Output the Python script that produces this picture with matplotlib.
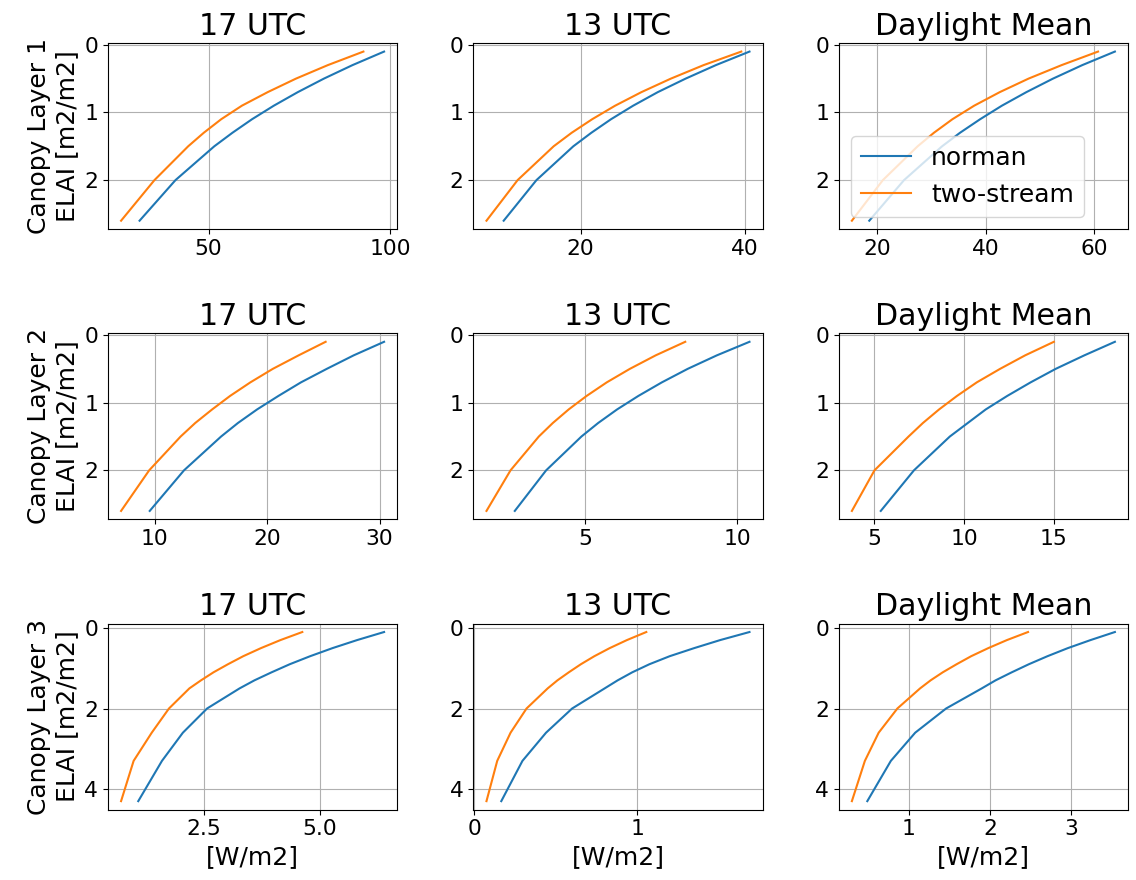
import matplotlib.pyplot as plt

# ELAI levels (top of canopy -> bottom)
elai_12 = [0.1, 0.3, 0.5, 0.7, 0.9, 1.1, 1.3, 1.5, 2.0, 2.6]
elai_3 = [0.1, 0.3, 0.5, 0.7, 0.9, 1.1, 1.3, 1.5, 2.0, 2.6, 3.3, 4.3]

titles = ['17 UTC', '13 UTC', 'Daylight Mean']
layers = ['Canopy Layer 1', 'Canopy Layer 2', 'Canopy Layer 3']

# layer 1
norman_l1_17 = [98.4, 89.7, 81.8, 74.6, 68.0, 62.0, 56.6, 51.6, 40.9, 31.0]
twostr_l1_17 = [92.7, 82.9, 74.1, 66.3, 59.2, 53.5, 48.7, 44.4, 35.1, 25.9]
norman_l1_13 = [40.6, 36.5, 32.8, 29.4, 26.4, 23.7, 21.3, 19.1, 14.6, 10.6]
twostr_l1_13 = [39.6, 35.0, 31.0, 27.4, 24.2, 21.4, 18.9, 16.7, 12.3, 8.5]
norman_l1_dm = [63.8, 57.8, 52.4, 47.5, 43.0, 39.0, 35.3, 32.0, 25.0, 18.6]
twostr_l1_dm = [60.7, 54.0, 47.9, 42.6, 37.9, 33.9, 30.5, 27.5, 21.1, 15.4]

# layer 2
norman_l2_17 = [30.4, 27.7, 25.3, 23.0, 21.0, 19.1, 17.4, 15.9, 12.6, 9.55]
twostr_l2_17 = [25.2, 22.8, 20.5, 18.5, 16.7, 15.1, 13.6, 12.3, 9.5, 7.0]
norman_l2_13 = [10.4, 9.33, 8.37, 7.52, 6.75, 6.05, 5.43, 4.88, 3.72, 2.69]
twostr_l2_13 = [8.29, 7.32, 6.47, 5.71, 5.05, 4.46, 3.94, 3.48, 2.55, 1.76]
norman_l2_dm = [18.4, 16.7, 15.1, 13.7, 12.4, 11.2, 10.2, 9.2, 7.2, 5.35]
twostr_l2_dm = [15.0, 13.4, 12.0, 10.7, 9.6, 8.6, 7.7, 6.9, 5.0, 3.74]

# layer 3
norman_l3_17 = [6.38, 5.80, 5.27, 4.79, 4.35, 3.96, 3.59, 3.27, 2.57, 2.05, 1.60, 1.09]
twostr_l3_17 = [4.62, 4.15, 3.73, 3.35, 3.02, 2.71, 2.44, 2.19, 1.75, 1.38, 0.99, 0.72]
norman_l3_13 = [1.69, 1.51, 1.35, 1.20, 1.075, 0.97, 0.88, 0.80, 0.60, 0.44, 0.295, 0.165]
twostr_l3_13 = [1.056, 0.937, 0.831, 0.737, 0.654, 0.58, 0.51, 0.45, 0.32, 0.222, 0.14, 0.074]
norman_l3_dm = [3.54, 3.24, 2.96, 2.71, 2.48, 2.27, 2.07, 1.90, 1.46, 1.08, 0.78, 0.49]
twostr_l3_dm = [2.47, 2.21, 1.98, 1.77, 1.59, 1.42, 1.27, 1.14, 0.86, 0.63, 0.46, 0.30]

xticks = [
    [[50, 100], [20, 40], [20, 40, 60]],
    [[10, 20, 30], [5, 10], [5, 10, 15]],
    [[2.5, 5.0], [0, 1], [1, 2, 3]],
]
yticks = [[0, 1, 2], [0, 1, 2], [0, 2, 4]]

norman = [[norman_l1_17, norman_l1_13, norman_l1_dm],
          [norman_l2_17, norman_l2_13, norman_l2_dm],
          [norman_l3_17, norman_l3_13, norman_l3_dm]]
twostr = [[twostr_l1_17, twostr_l1_13, twostr_l1_dm],
          [twostr_l2_17, twostr_l2_13, twostr_l2_dm],
          [twostr_l3_17, twostr_l3_13, twostr_l3_dm]]
elai = [elai_12, elai_12, elai_3]

fig, axs = plt.subplots(3, 3, figsize=(11.36, 8.8), dpi=100)
fig.subplots_adjust(left=0.095, right=0.993, top=0.951, bottom=0.080,
                    wspace=0.263, hspace=0.56)

for i in range(3):
    for j in range(3):
        ax = axs[i, j]
        ax.plot(norman[i][j], elai[i], label='norman')
        ax.plot(twostr[i][j], elai[i], label='two-stream')
        ax.invert_yaxis()
        ax.grid(True)
        ax.set_title(titles[j], fontsize=21.6)
        ax.set_xticks(xticks[i][j])
        ax.set_yticks(yticks[i])
        ax.tick_params(labelsize=15.7)
        if j == 0:
            ax.set_ylabel(layers[i] + '\nELAI [m2/m2]', fontsize=18)
        if i == 2:
            ax.set_xlabel('[W/m2]', fontsize=18)
        if i == 0 and j == 2:
            ax.legend(loc='lower left', fontsize=18)

fig.savefig('out.png')
